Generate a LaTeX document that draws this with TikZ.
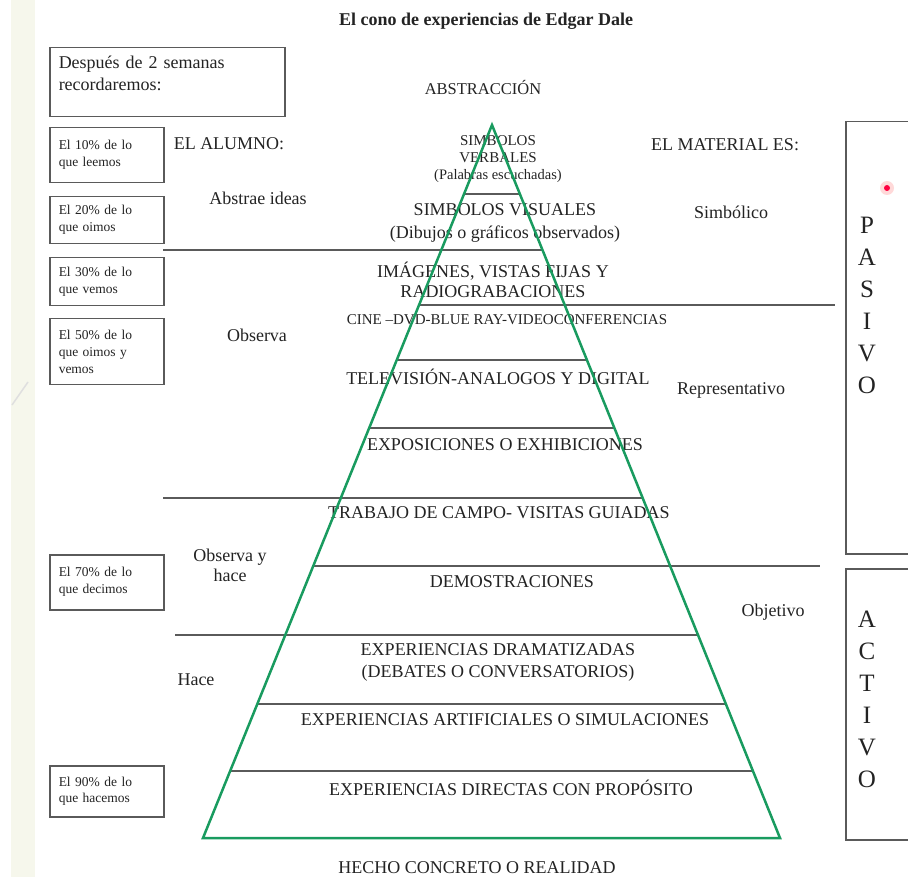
\documentclass[tikz,border=0pt]{standalone}
\usepackage{fontspec}
\setmainfont{Liberation Serif}
\usetikzlibrary{calc}

\definecolor{verde}{RGB}{25,155,95}
\definecolor{tinta}{RGB}{35,35,35}
\definecolor{raya}{RGB}{90,90,90}
\definecolor{franja}{RGB}{246,247,236}

\begin{document}
\begin{tikzpicture}[x=1pt, y=-1pt, thick,
    texto/.style = {text=tinta, inner sep=0pt, align=center, font=\fontsize{18}{21}\selectfont},
    chico/.style = {texto, font=\fontsize{15}{17}\selectfont},
    caja/.style = {draw=raya, line width=1.5pt, text=tinta, align=left, anchor=north west,
                   text width=96pt, inner xsep=9pt, inner ysep=0pt, font=\fontsize{13.5}{17}\selectfont},
    lado/.style = {draw=raya, line width=1.5pt},
    letras/.style = {texto, font=\fontsize{25}{32}\selectfont},
    divisor/.style = {draw=raya, line width=1.4pt}]

    \useasboundingbox (0,0) rectangle (908,877);
    \clip (0,0) rectangle (908,877);

    % franja de la diapositiva
    \fill[franja] (11,0) rectangle (35,877);
    \draw[gray!25, line width=1.5pt] (12,405) -- (28,382);

    \node[texto, font=\bfseries\fontsize{18}{21}\selectfont] (titulo) at (486,21) {El cono de experiencias de Edgar Dale};

    % cajas de la izquierda
    \node[caja, text width=217pt, minimum height=69pt, font=\fontsize{18}{22}\selectfont] (despues) at (49,47)
        {Después de 2 semanas\\recordaremos:\\[-4pt]\mbox{}};
    \node[caja, minimum height=55pt] (b10) at (49,127) {El 10\% de lo\\que leemos};
    \node[caja, minimum height=47pt] (b20) at (49,196) {El 20\% de lo\\que oimos};
    \node[caja, minimum height=48pt] (b30) at (49,257) {El 30\% de lo\\que vemos};
    \node[caja, minimum height=66pt] (b50) at (49,318) {El 50\% de lo\\que oimos y\\vemos};
    \node[caja, minimum height=55pt] (b70) at (49,554) {El 70\% de lo\\que decimos};
    \node[caja, minimum height=51pt] (b90) at (49,765) {El 90\% de lo\\que hacemos};

    % el alumno
    \node[texto] (alumno) at (229,144) {EL ALUMNO:};
    \node[texto] (abstrae) at (258,198) {Abstrae ideas};
    \node[texto] (observa) at (257,335) {Observa};
    \node[texto, font=\fontsize{18}{20}\selectfont] (obshace) at (230,565) {Observa y\\hace};
    \node[texto] (hace) at (196,680) {Hace};

    % el material
    \node[texto] (material) at (725,145) {EL MATERIAL ES:};
    \node[texto] (simbolico) at (731,212) {Simbólico};
    \node[texto] (repres) at (731,390) {Representativo};
    \node[texto] (objetivo) at (773,612) {Objetivo};

    % pasivo / activo
    \node[lado, minimum width=70pt, minimum height=432pt, anchor=north west] (pasivobox) at (845,121) {};
    \node[lado, minimum width=70pt, minimum height=271pt, anchor=north west] (activobox) at (845,568) {};
    \node[letras] (pasivo) at (867,305) {P\\A\\S\\I\\V\\O};
    \node[letras] (activo) at (867,699) {A\\C\\T\\I\\V\\O};
    \fill[red!15] (887,188) circle (7);
    \fill[red!75!magenta] (887,188) circle (3);

    % el cono
    \coordinate (cima) at (492,125);
    \coordinate (bizq) at (203,838);
    \coordinate (bder) at (780,838);

    \foreach \t in {0.0968, 0.3296, 0.425, 0.812, 0.906}
        \draw[divisor] ($(cima)!\t!(bizq)$) -- ($(cima)!\t!(bder)$);
    \foreach \t/\x in {0.1753/163, 0.5231/163, 0.7153/175}
        \draw[divisor] (\x,{125+713*\t}) -- ($(cima)!\t!(bder)$);
    \foreach \t/\x in {0.2525/835, 0.6185/820}
        \draw[divisor] ($(cima)!\t!(bizq)$) -- (\x,{125+713*\t});

    \node[texto, font=\fontsize{16.5}{20}\selectfont] (abstraccion) at (483,88) {ABSTRACCIÓN};
    \node[chico] (verbales) at (498,159) {SIMBOLOS\\VERBALES\\{\fontsize{14.5}{15}\selectfont(Palabras escuchadas)}};
    \node[texto, font=\fontsize{18}{23}\selectfont] (visuales) at (505,223) {SIMBOLOS VISUALES\\(Dibujos o gráficos observados)};
    \node[texto, font=\fontsize{18}{20}\selectfont] (imagenes) at (493,280) {IMÁGENES, VISTAS FIJAS Y\\RADIOGRABACIONES};
    \node[chico] (cine) at (507,320) {CINE –DVD-BLUE RAY-VIDEOCONFERENCIAS};
    \node[texto] (tele) at (498,377) {TELEVISIÓN-ANALOGOS Y DIGITAL};
    \node[texto] (expo) at (505,445) {EXPOSICIONES O EXHIBICIONES};
    \node[texto] (campo) at (499,513) {TRABAJO DE CAMPO- VISITAS GUIADAS};
    \node[texto] (demo) at (512,582) {DEMOSTRACIONES};
    \node[texto, font=\fontsize{18}{22}\selectfont] (drama) at (498,662) {EXPERIENCIAS DRAMATIZADAS\\(DEBATES O CONVERSATORIOS)};
    \node[texto] (artif) at (505,720) {EXPERIENCIAS ARTIFICIALES O SIMULACIONES};
    \node[texto] (directas) at (511,788) {EXPERIENCIAS DIRECTAS CON PROPÓSITO};
    \node[texto] (hecho) at (477,868) {HECHO CONCRETO O REALIDAD};

    \draw[verde, line width=2.5pt, line join=miter] (cima) -- (bizq) -- (bder) -- cycle;
\end{tikzpicture}
\end{document}
